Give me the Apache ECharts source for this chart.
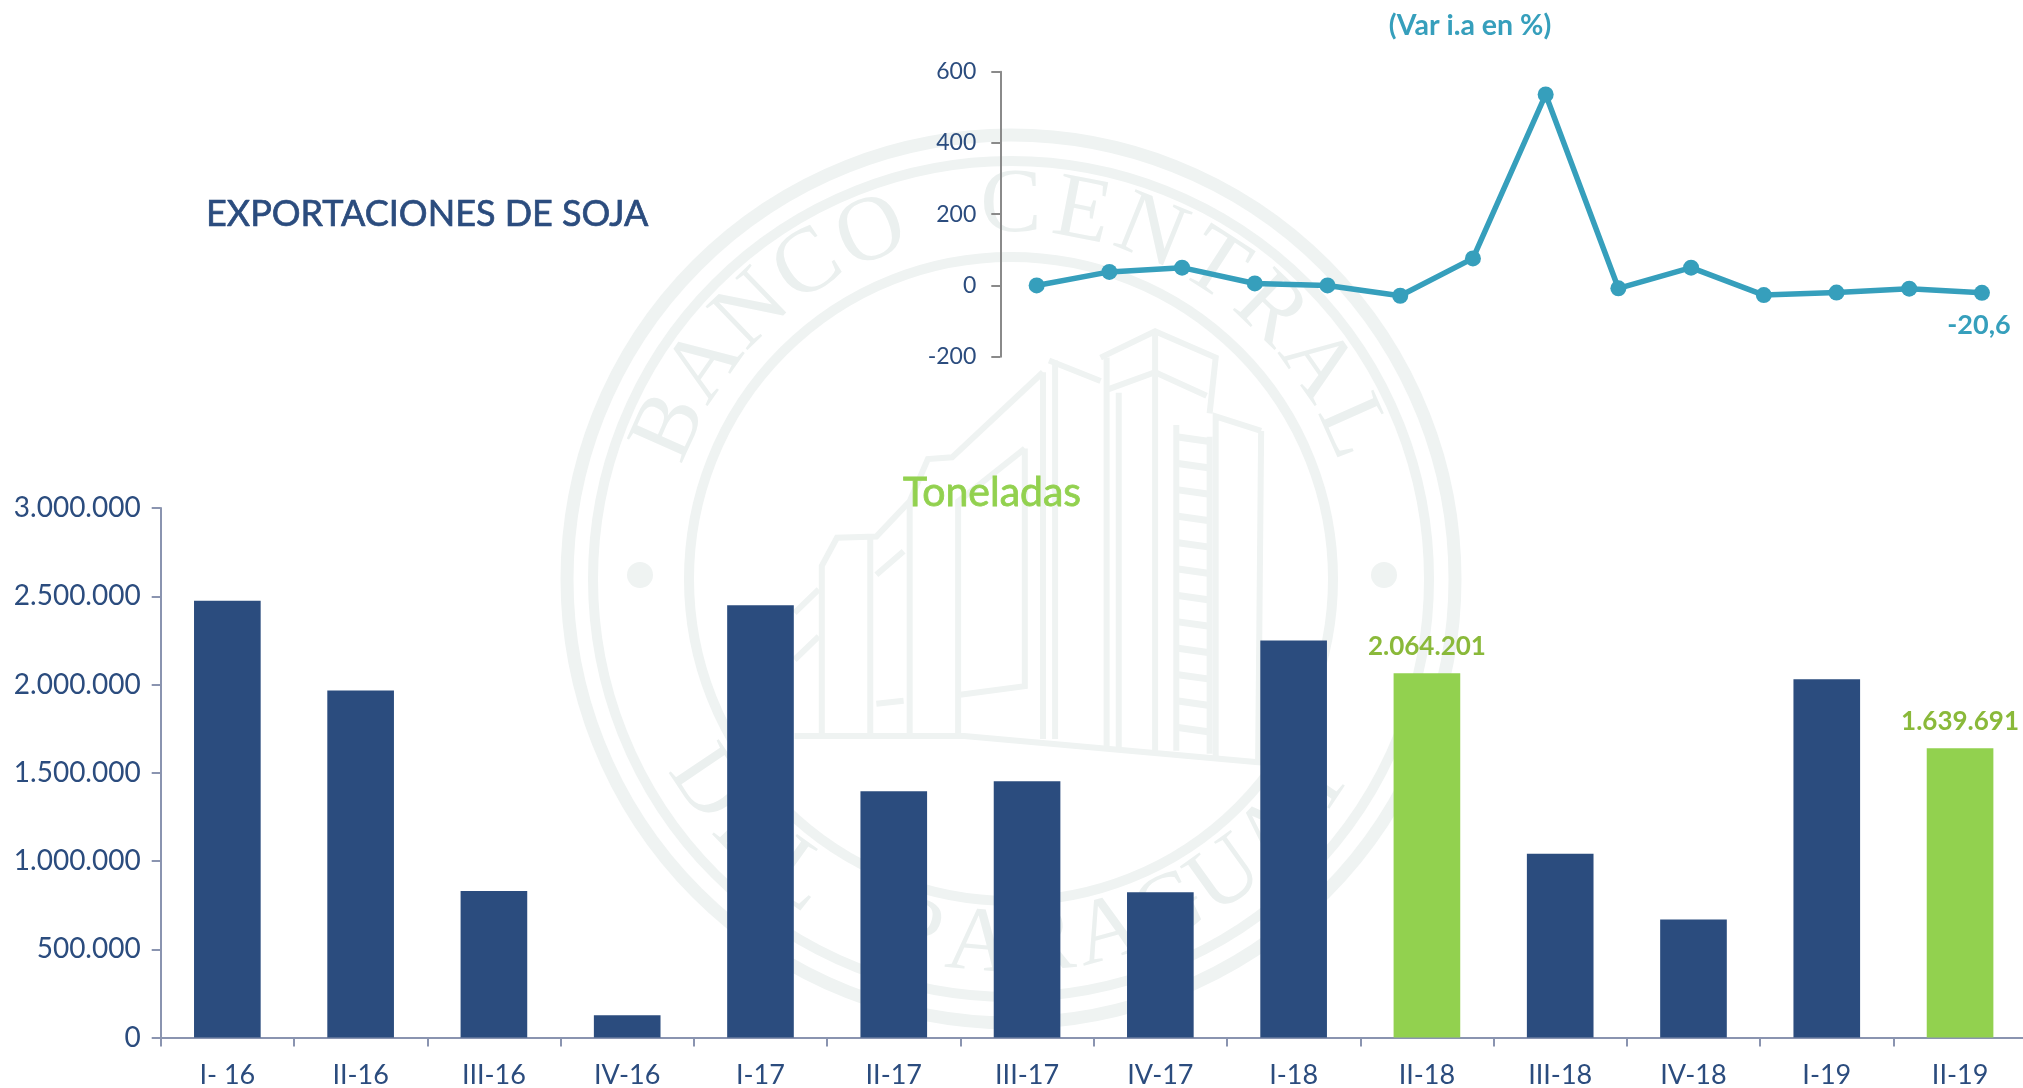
<!DOCTYPE html>
<html><head><meta charset="utf-8">
<style>html,body{margin:0;padding:0;background:#fff;overflow:hidden}#c{width:2023px;height:1088px}</style>
<script src="https://cdn.jsdelivr.net/npm/echarts@6/dist/echarts.min.js"></script>
</head><body><div id="c"></div>
<script>
const categories = ['I- 16','II-16','III-16','IV-16','I-17','II-17','III-17','IV-17','I-18','II-18','III-18','IV-18','I-19','II-19'];
const toneladas = [2475000,1966000,830000,127000,2449000,1396000,1452000,824000,2250000,2064201,1042000,669000,2030000,1639691];
const variacion = [0,38,50,5.6,0,-29,76,536,-8,50,-27,-20,-9,-20.6];
const highlighted = ['II-18','II-19'];
const titleText = 'EXPORTACIONES DE SOJA';
const lineTitle = '(Var i.a en %)';
const barTitle = 'Toneladas';
const seal1 = 'BANCO CENTRAL';
const seal2 = 'DEL PARAGUAY';

const NAVY='#2b4c7e', GREEN='#92d14f', GREEN_TXT='#8ab93a', TEAL='#369fbc', FONT='Lato', WM='#eff3f2';
const fmt = v => String(v).replace(/\B(?=(\d{3})+(?!\d))/g,'.');

/* watermark */
const cx=1011, cy=579;
const gfx=[];
[[444,13],[418,10],[322,10]].forEach(([r,w])=>gfx.push({type:'circle',z:-10,shape:{cx,cy,r},style:{fill:'none',stroke:WM,lineWidth:w}}));
[640,1384].forEach(x=>gfx.push({type:'circle',z:-10,shape:{cx:x,cy:575,r:13},style:{fill:WM}}));
const letter=(ch,deg,bottom)=>{
  const a=deg*Math.PI/180, R=bottom?368:372;
  const x=cx+R*Math.sin(a), y=bottom?cy+R*Math.cos(a):cy-R*Math.cos(a);
  gfx.push({type:'text',z:-10,x,y,rotation:bottom?a:-a,style:{text:ch,x:0,y:0,fill:'#ebf0ef',font:'92px "Liberation Serif"',align:'center',verticalAlign:'middle'}});
};
[...seal1].forEach((c,i)=>letter(c,-66+i*11,false));
[...seal2].forEach((c,i)=>letter(c,-56+i*10.2,true));
const P=[
 [[925,405],[1015,360],[1115,405],[1105,500]],[[935,460],[1015,430],[1100,470]],
 [[935,405],[935,1070]],[[1015,360],[1015,1075]],[[955,465],[955,1070]],
 [[840,410],[925,445]],[[830,430],[830,1055]],[[850,410],[850,1055]],
 [[830,430],[680,575],[640,578],[610,650],[555,710],[490,712],[465,760],[465,1045]],
 [[800,560],[690,650],[690,1050]],[[800,560],[800,965],[690,980]],
 [[610,650],[610,1045]],[[545,712],[545,1045]],[[600,735],[555,775]],[[555,995],[600,990]],
 [[1190,530],[1115,505],[1115,1090]],[[1190,530],[1185,1095]],
 [[1050,520],[1050,1075]],[[1105,540],[1105,1080]],
 [[420,1050],[700,1050],[1190,1095]],[[460,800],[420,840]],[[460,880],[420,920]]
];
const zx=x=>540+x*0.606, zy=y=>120+y*0.5867;
P.forEach(p=>gfx.push({type:'polyline',z:-10,shape:{points:p.map(q=>[zx(q[0]),zy(q[1])])},style:{fill:'none',stroke:WM,lineWidth:6}}));
for(let y=540;y<1070;y+=45) gfx.push({type:'line',z:-10,shape:{x1:zx(1050),y1:zy(y),x2:zx(1105),y2:zy(y+8)},style:{stroke:WM,lineWidth:7}});

const chart=echarts.init(document.getElementById('c'),null,{renderer:'canvas'});
chart.setOption({
 animation:false, backgroundColor:'#fff', graphic:{elements:gfx},
 title:[
  {text:titleText,left:206,top:196,textStyle:{color:NAVY,fontFamily:FONT,fontSize:36,fontWeight:'normal',textBorderColor:NAVY,textBorderWidth:0.7},padding:0},
  {text:lineTitle,left:1470,top:11,textAlign:'center',textStyle:{color:TEAL,fontFamily:FONT,fontSize:28.5,fontWeight:'bold'},padding:0},
  {text:barTitle,left:903,top:472,textStyle:{color:GREEN,fontFamily:FONT,fontSize:41,fontWeight:'normal',textBorderColor:GREEN,textBorderWidth:0.8},padding:0}
 ],
 grid:[
  {left:160.7,top:508,width:1866,height:529.6,outerBoundsMode:'none'},
  {left:1000.3,top:71.7,width:1018,height:285,outerBoundsMode:'none'}
 ],
 xAxis:[
  {gridIndex:0,type:'category',data:categories,
   axisLine:{lineStyle:{color:'#8a94b0',width:2}},
   axisTick:{show:true,alignWithLabel:false,length:9,lineStyle:{color:'#8a94b0',width:2}},
   axisLabel:{color:NAVY,fontFamily:FONT,fontSize:27,margin:24,interval:0}},
  {gridIndex:1,type:'category',data:categories,show:false}
 ],
 yAxis:[
  {gridIndex:0,type:'value',min:0,max:3000000,interval:500000,splitLine:{show:false},
   axisLine:{show:true,lineStyle:{color:'#8a94b0',width:2}},
   axisTick:{show:true,length:9,lineStyle:{color:'#8a94b0',width:2}},
   axisLabel:{color:NAVY,fontFamily:FONT,fontSize:28,margin:20,formatter:fmt}},
  {gridIndex:1,type:'value',min:-200,max:600,interval:200,splitLine:{show:false},
   axisLine:{show:true,onZero:false,lineStyle:{color:'#8a8a8a',width:2}},
   axisTick:{show:true,length:9,lineStyle:{color:'#8a8a8a',width:2}},
   axisLabel:{color:NAVY,fontFamily:FONT,fontSize:23,margin:24}}
 ],
 series:[
  {type:'bar',xAxisIndex:0,yAxisIndex:0,barWidth:'50%',
   data:toneladas.map((v,i)=>{
     const hi=highlighted.includes(categories[i]);
     return {value:v,itemStyle:{color:hi?GREEN:NAVY},
       label:{show:hi,position:'top',distance:14,formatter:fmt(v),color:GREEN_TXT,fontFamily:FONT,fontSize:26,fontWeight:'bold'}};
   })},
  {type:'line',xAxisIndex:1,yAxisIndex:1,symbol:'circle',symbolSize:16,
   lineStyle:{color:TEAL,width:5.5},itemStyle:{color:TEAL},
   data:variacion.map((v,i)=>i===variacion.length-1
     ?{value:v,label:{show:true,position:'bottom',distance:11,formatter:String(v).replace('.',','),color:TEAL,fontFamily:FONT,fontSize:27,fontWeight:'bold',offset:[-3,0]}}
     :v)}
 ]
});
</script></body></html>
